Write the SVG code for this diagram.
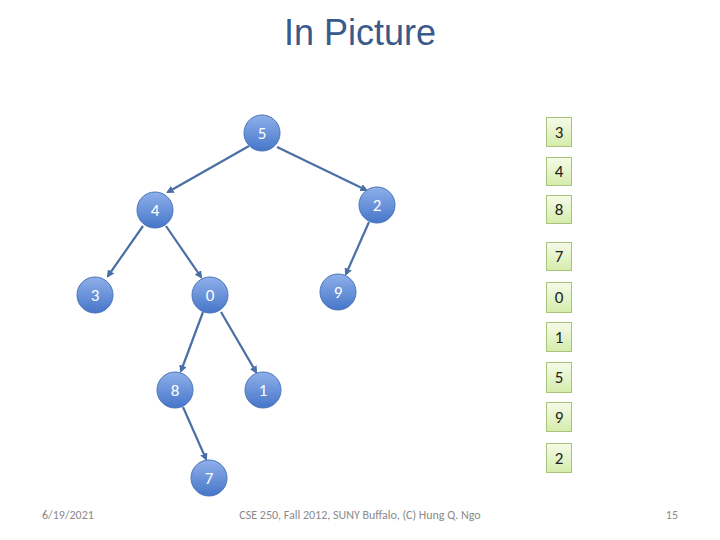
<svg xmlns="http://www.w3.org/2000/svg" width="720" height="540" viewBox="0 0 720 540">
<style>
.n circle{fill:url(#bg);stroke:#4a74b8;stroke-width:1}
.n text{fill:#fff;font-family:Carlito,"Liberation Sans",sans-serif;font-size:17px;text-anchor:middle}
.b rect{fill:url(#gg);stroke:#a9c47a;stroke-width:1}
.b text{fill:#222;font-family:Carlito,"Liberation Sans",sans-serif;font-size:17px;text-anchor:middle}
.e line{stroke:#4a6fa5;stroke-width:2.2;marker-end:url(#ah)}
.f{fill:#8a8a8a;font-family:Carlito,"Liberation Sans",sans-serif;font-size:12px}
</style>
<defs>
<linearGradient id="bg" x1="0" y1="0" x2="0" y2="1"><stop offset="0" stop-color="#8fb0ea"/><stop offset="1" stop-color="#4676c9"/></linearGradient>
<linearGradient id="gg" x1="0" y1="0" x2="0" y2="1"><stop offset="0" stop-color="#f6fbea"/><stop offset="1" stop-color="#d5ecab"/></linearGradient>
<marker id="ah" markerWidth="3.5" markerHeight="3.5" refX="2.5" refY="1.75" orient="auto" markerUnits="strokeWidth"><path d="M0,0 L3.5,1.75 L0,3.5 z" fill="#4a6fa5"/></marker>
</defs>
<rect width="720" height="540" fill="#fff"/>
<text x="360" y="45" text-anchor="middle" font-family="'Liberation Sans',Arial,sans-serif" font-size="36" fill="#3a5a8c">In Picture</text>
<g id="edges" class="e">
<line x1="249" y1="146" x2="168" y2="192"/>
<line x1="277" y1="147" x2="366" y2="190"/>
<line x1="143" y1="226" x2="108" y2="276"/>
<line x1="166" y1="226" x2="201" y2="277"/>
<line x1="369" y1="222" x2="346" y2="274"/>
<line x1="203" y1="312" x2="181" y2="371"/>
<line x1="221" y1="312" x2="256" y2="372"/>
<line x1="183" y1="407" x2="206" y2="459"/>
</g>
<g id="n5" class="n"><circle cx="262" cy="133" r="18"/><text x="262" y="139">5</text></g>
<g id="n2" class="n"><circle cx="377" cy="205" r="18"/><text x="377" y="211">2</text></g>
<g id="n4" class="n"><circle cx="155" cy="210" r="18"/><text x="155" y="216">4</text></g>
<g id="n3" class="n"><circle cx="95" cy="295" r="18"/><text x="95" y="301">3</text></g>
<g id="n0" class="n"><circle cx="210" cy="295" r="18"/><text x="210" y="301">0</text></g>
<g id="n9" class="n"><circle cx="338" cy="292" r="18"/><text x="338" y="298">9</text></g>
<g id="n8" class="n"><circle cx="175" cy="390" r="18"/><text x="175" y="396">8</text></g>
<g id="n1" class="n"><circle cx="263" cy="390" r="18"/><text x="263" y="396">1</text></g>
<g id="n7" class="n"><circle cx="209" cy="478" r="18"/><text x="209" y="484">7</text></g>
<g id="b3" class="b"><rect x="546.500" y="117.500" width="25" height="29"/><text x="559" y="138">3</text></g>
<g id="b4" class="b"><rect x="546.500" y="157.500" width="25" height="28"/><text x="559" y="177">4</text></g>
<g id="b8" class="b"><rect x="546.500" y="195.500" width="25" height="28"/><text x="559" y="215">8</text></g>
<g id="b7" class="b"><rect x="546.500" y="242.500" width="25" height="28"/><text x="559" y="262">7</text></g>
<g id="b0" class="b"><rect x="546.500" y="282.500" width="25" height="30"/><text x="559" y="303">0</text></g>
<g id="b1" class="b"><rect x="546.500" y="322.500" width="25" height="29"/><text x="559" y="343">1</text></g>
<g id="b5" class="b"><rect x="546.500" y="362.500" width="25" height="30"/><text x="559" y="383">5</text></g>
<g id="b9" class="b"><rect x="546.500" y="402.500" width="25" height="29"/><text x="559" y="423">9</text></g>
<g id="b2" class="b"><rect x="546.500" y="443.500" width="25" height="29"/><text x="559" y="464">2</text></g>
<text class="f" x="42" y="519">6/19/2021</text>
<text class="f" x="360" y="519" text-anchor="middle">CSE 250, Fall 2012, SUNY Buffalo, (C) Hung Q. Ngo</text>
<text class="f" x="678" y="519" text-anchor="end">15</text>
</svg>
